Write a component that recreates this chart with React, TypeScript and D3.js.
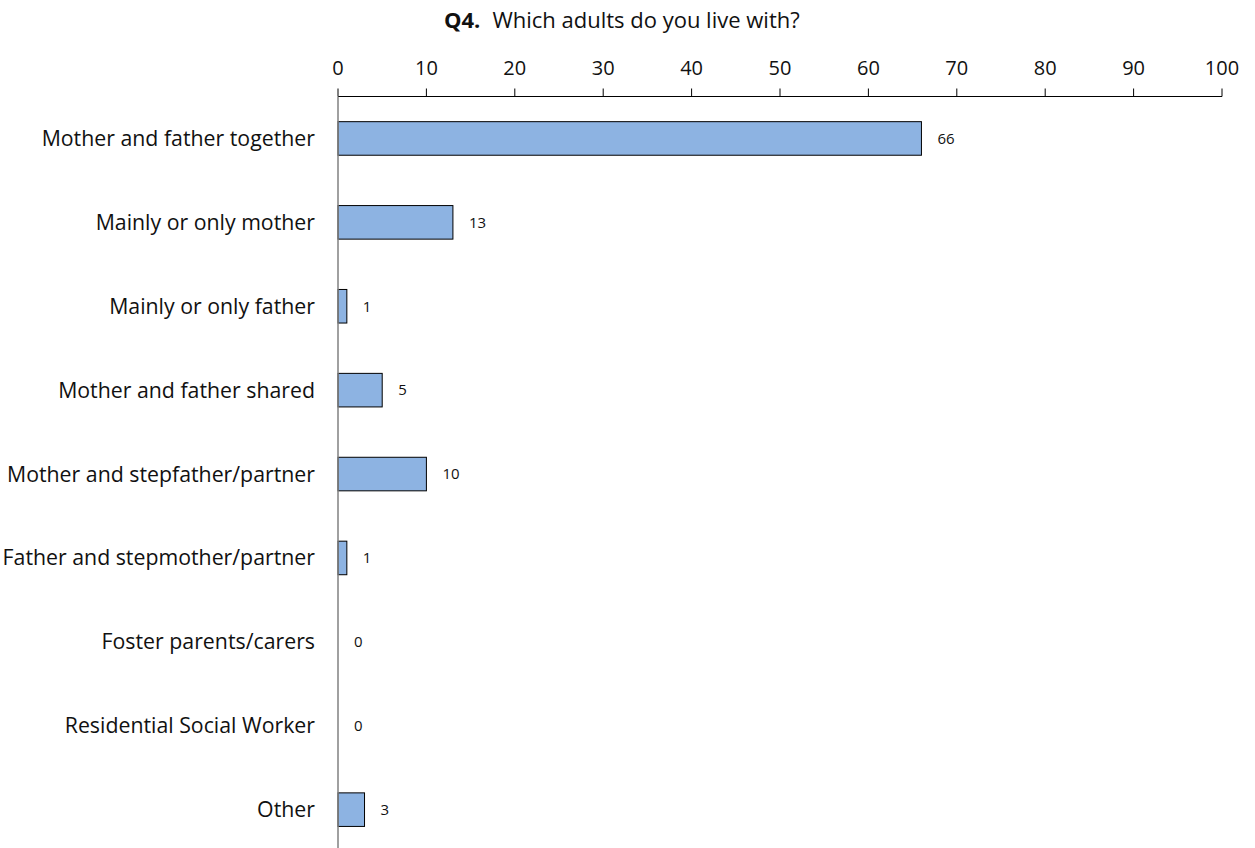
import React from "react";
import * as d3 from "d3";

const categories = [
  "Mother and father together",
  "Mainly or only mother",
  "Mainly or only father",
  "Mother and father shared",
  "Mother and stepfather/partner",
  "Father and stepmother/partner",
  "Foster parents/carers",
  "Residential Social Worker",
  "Other",
];
const values = [66, 13, 1, 5, 10, 1, 0, 0, 3];
const ticks = [0, 10, 20, 30, 40, 50, 60, 70, 80, 90, 100];

const W = 1255;
const H = 848;
const FONT = "'Open Sans', sans-serif";

export default function App() {
  const x = d3.scaleLinear().domain([0, 100]).range([338, 1222]);
  const y = d3
    .scaleBand<string>()
    .domain(categories)
    .range([96.5, 96.5 + 9 * 83.9])
    .paddingInner(0.6)
    .paddingOuter(0.3);
  const axisY = 96.5;
  return (
    <svg
      width={W}
      height={H}
      style={{ position: "absolute", left: 0, top: 0, background: "#fff" }}
      fontFamily={FONT}
    >
      <text x={444} y={28} fontSize={22} fill="#111">
        <tspan fontWeight="bold">Q4.</tspan>
        <tspan dx={12}>Which adults do you live with?</tspan>
      </text>
      {/* top axis */}
      <line x1={x(0)} x2={x(100)} y1={axisY} y2={axisY} stroke="#000" strokeWidth={1} />
      {ticks.map((t) => (
        <g key={t}>
          <line x1={x(t)} x2={x(t)} y1={axisY - 8} y2={axisY} stroke="#000" strokeWidth={1} />
          <text x={x(t)} y={75} textAnchor="middle" fontSize={20} fill="#111">
            {t}
          </text>
        </g>
      ))}
      {categories.map((c, i) => {
        const y0 = y(c)!;
        const bw = y.bandwidth();
        const v = values[i];
        return (
          <g key={c}>
            {v > 0 && (
              <rect
                x={x(0)}
                y={y0}
                width={x(v) - x(0)}
                height={bw}
                fill="#8DB3E2"
                stroke="#000"
                strokeWidth={1}
              />
            )}
            <text x={315} y={y0 + bw / 2} dy="0.35em" textAnchor="end" fontSize={21.3} fill="#111">
              {c}
            </text>
            <text x={x(v) + 16} y={y0 + bw / 2} dy="0.35em" fontSize={15} fill="#111">
              {v}
            </text>
          </g>
        );
      })}
      <line x1={x(0)} x2={x(0)} y1={axisY} y2={H} stroke="#808080" strokeWidth={1.5} />
    </svg>
  );
}
